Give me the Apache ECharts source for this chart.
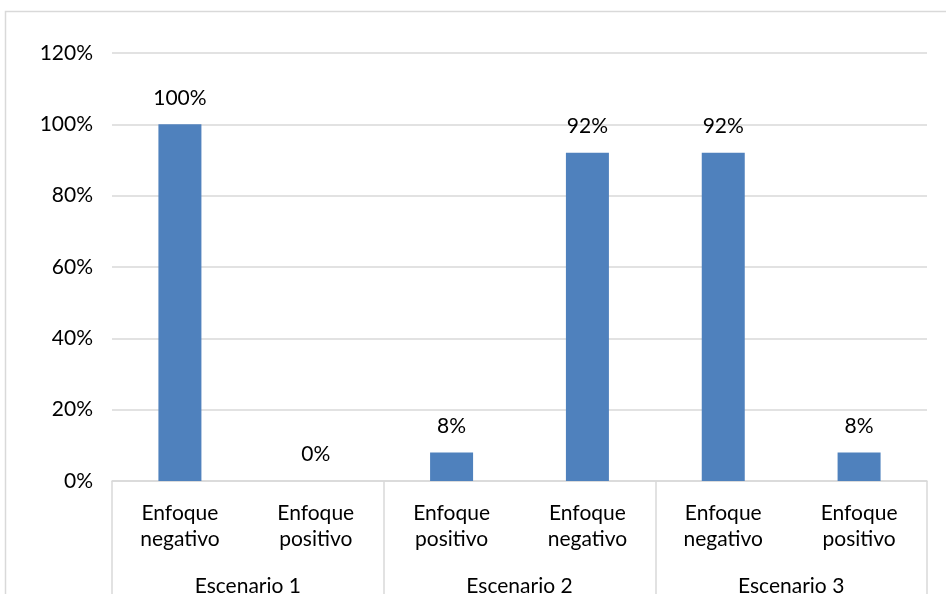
<!DOCTYPE html>
<html>
<head>
<meta charset="utf-8">
<script src="https://cdn.jsdelivr.net/npm/echarts@6/dist/echarts.min.js"></script>
<style>
  html, body { margin: 0; padding: 0; background: #fff; }
  #chart { width: 946px; height: 594px; }
</style>
</head>
<body>
<div id="chart"></div>
<script>
// datos
const categories = ['Enfoque\nnegativo', 'Enfoque\npositivo', 'Enfoque\npositivo', 'Enfoque\nnegativo', 'Enfoque\nnegativo', 'Enfoque\npositivo'];
const scenarios = ['Escenario 1', 'Escenario 2', 'Escenario 3'];
const values = [1.00, 0.00, 0.08, 0.92, 0.92, 0.08];
const yTicks = [0, 0.2, 0.4, 0.6, 0.8, 1.0, 1.2];

const font = 'Lato, "Open Sans", sans-serif';
const gray = '#d9d9d9';
const pct = v => Math.round(v * 100) + '%';

const chart = echarts.init(document.getElementById('chart'));
const option = {
    animation: false,
    textStyle: { fontFamily: font },
    graphic: [{
        type: 'rect',
        shape: { x: 5.5, y: 11.5, width: 1000, height: 700 },
        style: { fill: 'none', stroke: gray, lineWidth: 1.5 },
        silent: true
    }],
    grid: { left: 112, right: 19, top: 53, bottom: 113, containLabel: false, outerBoundsMode: 'none' },
    xAxis: [{
        type: 'category',
        data: categories,
        axisLine: { lineStyle: { color: gray, width: 1.5 } },
        axisTick: { show: false },
        axisLabel: {
            interval: 0,
            margin: 19,
            fontSize: 21,
            lineHeight: 26,
            color: '#000',
            fontFamily: font
        }
    }, {
        type: 'category',
        data: scenarios,
        position: 'bottom',
        axisLine: { show: false },
        axisTick: { show: true, length: 115, lineStyle: { color: gray, width: 1.5 } },
        axisLabel: {
            interval: 0,
            margin: 95,
            fontSize: 21,
            color: '#000',
            fontFamily: font
        }
    }],
    yAxis: {
        type: 'value',
        min: 0,
        max: yTicks[yTicks.length - 1],
        interval: 0.2,
        axisLine: { show: false },
        axisTick: { show: false },
        splitLine: { lineStyle: { color: gray, width: 1.5 } },
        axisLabel: {
            margin: 19,
            fontSize: 21,
            color: '#000',
            fontFamily: font,
            formatter: pct
        }
    },
    series: [{
        type: 'bar',
        xAxisIndex: 0,
        data: values,
        barWidth: 43,
        itemStyle: { color: '#4f81bd' },
        label: {
            show: true,
            position: 'top',
            distance: 16,
            fontSize: 21,
            color: '#000',
            fontFamily: font,
            formatter: p => pct(p.value)
        }
    }]
};
chart.setOption(option);
</script>
</body>
</html>
